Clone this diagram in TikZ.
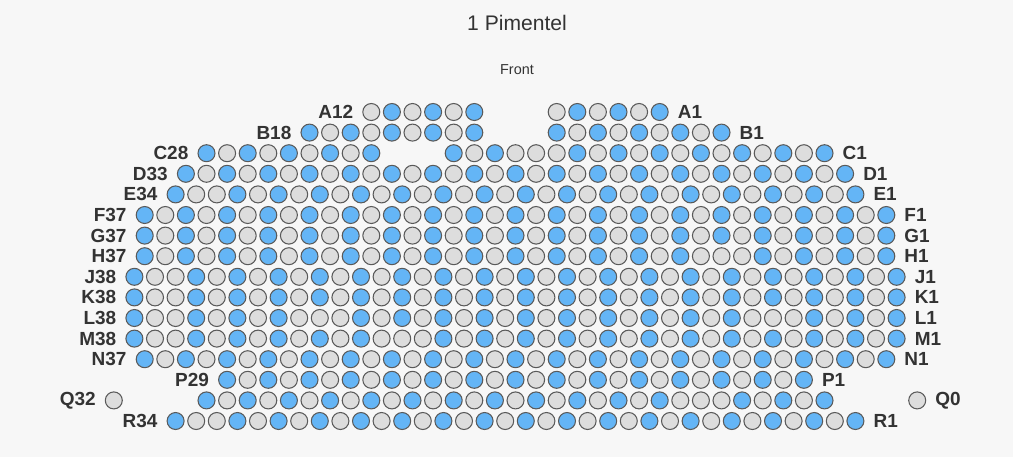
\documentclass[tikz,border=0pt]{standalone}
\usepackage{fontspec}
\setmainfont{Liberation Sans}
\usetikzlibrary{positioning}
\definecolor{pagebg}{HTML}{F7F7F7}
\definecolor{seatblue}{HTML}{64B5F6}
\definecolor{seatgrey}{HTML}{DDDDDD}
\definecolor{seatrim}{HTML}{5A5A5A}
\definecolor{labtxt}{HTML}{333333}

% one block of seats: row letter, y, offset of first seat, number of first seat, colours
\newcommand\seatrow[5]{%
  \foreach \c [count=\i from 0] in {#5} {
    \pgfmathtruncatemacro\seatno{#4-\i}
    \node[seat\c] (#1\seatno) at ({515.5+20.6*(#3+\i)},#2) {};
  }}

\begin{document}
\begin{tikzpicture}[x=0.02cm,y=-0.02cm,node distance=4pt,
  seat/.style={circle,draw=seatrim,line width=0.6pt,minimum size=0.34cm,inner sep=0pt},
  seatb/.style={seat,fill=seatblue},
  seatg/.style={seat,fill=seatgrey},
  rowlab/.style={font=\bfseries\fontsize{10.8}{12}\selectfont,text=labtxt,inner sep=1pt}]
\fill[pagebg] (0,0) rectangle (1013,457);
\useasboundingbox (0,0) rectangle (1013,457);
\node[font=\fontsize{12}{14}\selectfont,text=labtxt] (title) at (517,23) {1 Pimentel};
\node[font=\fontsize{8.2}{10}\selectfont,text=labtxt] (front) at (517,70) {Front};

\seatrow{A}{112}{-7}{12}{g,b,g,b,g,b}
\seatrow{A}{112}{2}{6}{g,b,g,b,g,b}
\seatrow{B}{132.6}{-10}{18}{b,g,b,g,b,g,b,g,b}
\seatrow{B}{132.6}{2}{9}{b,g,b,g,b,g,b,g,b}
\seatrow{C}{153.2}{-15}{28}{b,g,b,g,b,g,b,g,b}
\seatrow{C}{153.2}{-3}{19}{b,g,b,g,g,g,b,g,b,g,b,g,b,g,b,g,b,g,b}
\seatrow{D}{173.8}{-16}{33}{b,g,b,g,b,g,b,g,b,g,b,g,b,g,b,g,b,g,b,g,b,g,b,g,b,g,b,g,b,g,b,g,b}
\seatrow{E}{194.4}{-16.5}{34}{b,g,g,b,g,b,g,b,g,b,g,b,g,b,g,b,g,b,g,b,g,b,g,b,g,b,g,b,g,b,g,b,g,b}
\seatrow{F}{215}{-18}{37}{b,g,b,g,b,g,b,g,b,g,b,g,b,g,b,g,b,g,b,g,b,g,b,g,b,g,b,g,b,g,b,g,b,g,b,g,b}
\seatrow{G}{235.6}{-18}{37}{b,g,b,g,b,g,b,g,b,g,b,g,b,g,b,g,b,g,b,g,b,g,b,g,b,g,b,g,b,g,b,g,b,g,b,g,b}
\seatrow{H}{256.2}{-18}{37}{b,g,b,g,b,g,b,g,b,g,b,g,b,g,b,g,b,g,b,g,b,g,b,g,b,g,b,g,g,g,b,g,b,g,b,g,b}
\seatrow{J}{276.8}{-18.5}{38}{b,g,g,b,g,b,g,b,g,b,g,b,g,b,g,b,g,b,g,b,g,b,g,b,g,b,g,b,g,b,g,b,g,b,g,b,g,b}
\seatrow{K}{297.4}{-18.5}{38}{b,g,g,b,g,b,g,b,g,b,g,b,g,b,g,b,g,b,g,b,g,b,g,b,g,b,g,b,g,b,g,b,g,b,g,b,g,b}
\seatrow{L}{318}{-18.5}{38}{b,g,g,b,g,b,g,b,g,g,g,b,g,b,g,b,g,b,g,b,g,b,g,b,g,b,g,b,g,b,g,g,g,b,g,b,g,b}
\seatrow{M}{338.6}{-18.5}{38}{b,g,g,b,g,b,g,b,g,b,g,b,g,g,g,b,g,b,g,b,g,b,g,b,g,b,g,b,g,b,g,b,g,b,g,b,g,b}
\seatrow{N}{359.2}{-18}{37}{b,g,b,g,b,g,b,g,b,g,b,g,b,g,b,g,b,g,b,g,b,g,b,g,b,g,b,g,b,g,b,g,b,g,b,g,b}
\seatrow{P}{379.8}{-14}{29}{b,g,b,g,b,g,b,g,b,g,b,g,b,g,b,g,b,g,b,g,b,g,b,g,b,g,b,g,b}
\seatrow{Q}{400.4}{-19.5}{32}{g}
\seatrow{Q}{400.4}{-15}{31}{b,g,b,g,b,g,b,g,b,g,b,g,b,g,b,g,b,g,b,g,b,g,b,g,g,g,b,g,b,g,b}
\seatrow{Q}{400.4}{19.5}{0}{g}
\seatrow{R}{421}{-16.5}{34}{b,g,g,b,g,b,g,b,g,b,g,b,g,b,g,b,g,b,g,b,g,b,g,b,g,b,g,b,g,b,g,b,g,b}

% row labels at both ends
\foreach \r/\n in {A/12,B/18,C/28,D/33,E/34,F/37,G/37,H/37,J/38,K/38,L/38,M/38,N/37,P/29,Q/32,R/34}
  \node[rowlab,left=of \r\n] (lab\r\n) {\r\n};
\foreach \r/\n in {A/1,B/1,C/1,D/1,E/1,F/1,G/1,H/1,J/1,K/1,L/1,M/1,N/1,P/1,Q/0,R/1}
  \node[rowlab,right=of \r\n] (lab\r\n) {\r\n};
\end{tikzpicture}
\end{document}
